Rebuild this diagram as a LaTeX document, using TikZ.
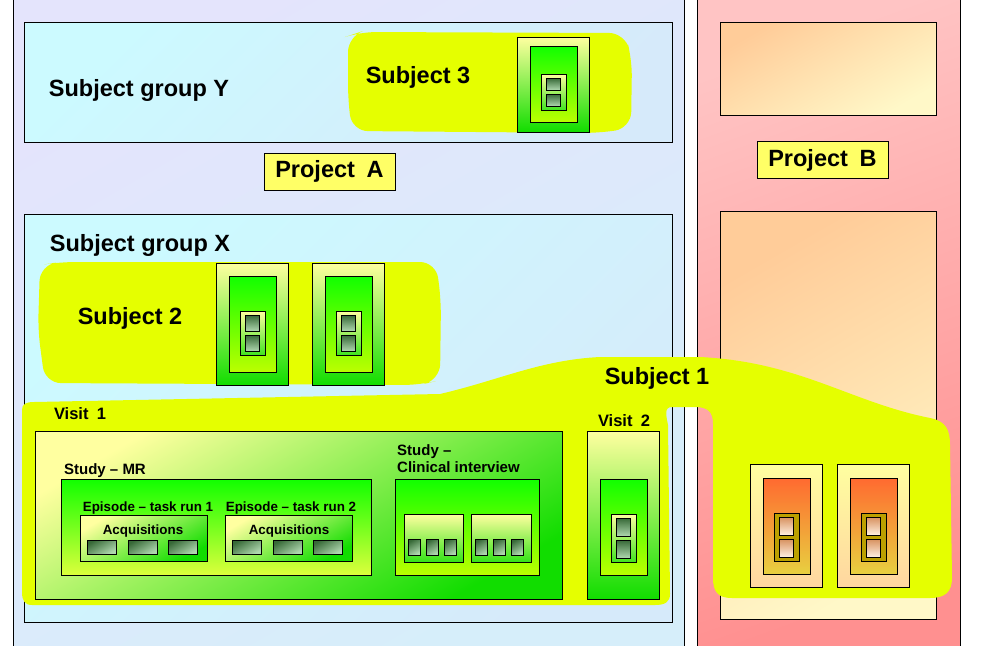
\documentclass[tikz,border=0pt]{standalone}
\usepackage{fontspec}
\setmainfont{Liberation Sans}
\definecolor{bgAa}{RGB}{228,228,252}
\definecolor{bgAb}{RGB}{214,238,250}
\definecolor{grpa}{RGB}{204,250,255}
\definecolor{grpb}{RGB}{214,234,250}
\definecolor{bgBa}{RGB}{255,196,196}
\definecolor{bgBb}{RGB}{255,144,144}
\definecolor{peacha}{RGB}{255,204,153}
\definecolor{peachb}{RGB}{255,248,200}
\definecolor{blobc}{RGB}{229,255,0}
\definecolor{labc}{RGB}{255,255,102}
\definecolor{lyel}{RGB}{255,255,160}
\definecolor{gdark}{RGB}{17,221,0}
\definecolor{gbright}{RGB}{17,255,0}
\definecolor{gyel}{RGB}{187,255,0}
\definecolor{gyelb}{RGB}{220,255,60}
\definecolor{sqa}{RGB}{55,105,55}
\definecolor{sqb}{RGB}{175,215,175}
\definecolor{ora}{RGB}{255,106,48}
\definecolor{orb}{RGB}{232,208,64}
\definecolor{olivec}{RGB}{187,160,0}
\definecolor{osqa}{RGB}{215,145,95}
\definecolor{osqb}{RGB}{255,240,225}
\definecolor{ooutb}{RGB}{255,214,160}
\tikzset{
  box/.style={draw=black, line width=0.8pt},
  gouter/.style={box, top color=lyel, bottom color=gdark},
  ginner/.style={box, top color=gbright, bottom color=gyel},
  gsmall/.style={box, top color=lyel, bottom color=gdark!80!lyel},
  gsq/.style={box, top color=sqa, bottom color=sqb},
  oouter/.style={box, top color=lyel, bottom color=ooutb},
  oinner/.style={box, top color=ora, bottom color=orb},
  osmall/.style={box, fill=olivec},
  osq/.style={box, top color=osqa, bottom color=osqb},
  blob/.style={fill=blobc},
  biglab/.style={font=\bfseries\fontsize{23.5}{26}\selectfont, inner sep=0pt},
  visitlab/.style={font=\bfseries\fontsize{16.5}{19}\selectfont, inner sep=0pt},
  studylab/.style={font=\bfseries\fontsize{15}{17}\selectfont, inner sep=0pt},
  eplab/.style={font=\bfseries\fontsize{13.4}{15}\selectfont, inner sep=0pt},
  projlab/.style={box, fill=labc, minimum width=131pt, minimum height=37pt, inner sep=0pt, font=\bfseries\fontsize{23.5}{26}\selectfont},
}
\newcommand\mkvisit[8]{%
  \draw[#1outer] (#2,#3) rectangle ({#2+72},#4);
  \draw[#1inner] ({#2+13},#5) rectangle ({#2+60},#6);
  \draw[#1small] ({#2+24},#7) rectangle ({#2+49},#8);
  \draw[#1sq] ({#2+29},{#7+4}) rectangle ({#2+43},{(#7+#8)/2-2});
  \draw[#1sq] ({#2+29},{(#7+#8)/2+2}) rectangle ({#2+43},{#8-4});
}
\begin{document}
\begin{tikzpicture}[x=1pt,y=-1pt]
\clip (0,0) rectangle (981,645);
\fill[white] (0,0) rectangle (981,645);
% panels
\draw[box, top color=bgAa, bottom color=bgAb, shading angle=30] (13,-5) rectangle (684,650);
\draw[box, top color=bgBa, bottom color=bgBb, shading angle=20] (697,-5) rectangle (960,650);
% subject groups
\draw[box, top color=grpa, bottom color=grpb, shading angle=45] (24,22) rectangle (672,142);
\draw[box, top color=grpa, bottom color=grpb, shading angle=45] (24,214) rectangle (672,622);
% project B boxes
\draw[box, top color=peacha, bottom color=peachb, shading angle=30] (720,22) rectangle (936,115);
\draw[box, top color=peacha, bottom color=peachb, shading angle=30] (720,211) rectangle (936,619);
% blobs
\fill[blob, rounded corners=16] (348,36) -- (360,32) -- (625,33) -- (632,60) -- (631,128) -- (600,133) -- (352,131) -- (348,100) -- cycle;
\fill[blob, rounded corners=16] (40,265) -- (60,262) -- (436,262) -- (441,300) -- (440,380) -- (420,385) -- (45,383) -- (38,330) -- cycle;
\fill[blob] (22,410) .. controls (22,404) and (26,402) .. (34,402)
  -- (440,394) .. controls (500,380) and (540,360) .. (600,357)
  -- (700,357) .. controls (800,362) and (850,402) .. (930,418)
  .. controls (946,421) and (950,430) .. (950,445)
  -- (952,578) .. controls (952,592) and (945,598) .. (930,598)
  -- (732,598) .. controls (718,598) and (713,592) .. (713,578)
  -- (713,424) .. controls (713,412) and (708,407) .. (695,407)
  -- (672,407) .. controls (664,407) and (666,415) .. (668,425)
  -- (670,594) .. controls (670,602) and (665,605) .. (655,605)
  -- (32,605) .. controls (25,605) and (22,601) .. (22,592) -- cycle;
% subject visit boxes
\mkvisit{g}{517}{37}{132}{46}{122}{74}{110}
\mkvisit{g}{216}{263}{385}{276}{372}{311}{355}
\mkvisit{g}{312}{263}{385}{276}{372}{311}{355}
\mkvisit{g}{587}{431}{599}{479}{575}{514}{562}
\mkvisit{o}{750}{464}{587}{478}{574}{513}{561}
\mkvisit{o}{837}{464}{587}{478}{574}{513}{561}
% visit 1
\draw[box, top color=lyel, bottom color=gdark, shading angle=30] (35,431) rectangle (562,599);
\draw[box, top color=gbright, bottom color=gyelb] (61,479) rectangle (371,575);
\draw[box, top color=lyel, bottom color=gdark, shading angle=30] (80,515) rectangle (207,561);
\draw[box, top color=lyel, bottom color=gdark, shading angle=30] (225,515) rectangle (352,561);
\foreach \ax in {87,128,168,232,273,313}
  \draw[gsq, shading angle=30] (\ax,540) rectangle ({\ax+29},554);
\draw[box, top color=gbright, bottom color=gyel] (395,479) rectangle (539,575);
\draw[box, top color=lyel, bottom color=gdark!85!lyel] (404,514) rectangle (463,562);
\draw[box, top color=lyel, bottom color=gdark!85!lyel] (471,514) rectangle (531,562);
\foreach \ax in {408,426,444,475,493,511}
  \draw[gsq, shading angle=30] (\ax,539) rectangle ({\ax+12},555);
% labels
\node[biglab] (sgy) at (139,90) {Subject group Y};
\node[biglab] (s3) at (418,77) {Subject 3};
\node[projlab] (pa) at (329.5,171.5) {Project\enspace A};
\node[biglab] (sgx) at (140,245) {Subject group X};
\node[biglab] (s2) at (130,318) {Subject 2};
\node[biglab] (s1) at (657,378) {Subject 1};
\node[visitlab] (v1) at (80,414) {Visit\enspace 1};
\node[visitlab] (v2) at (624,421) {Visit\enspace 2};
\node[studylab] (smr) at (105,471) {Study – MR};
\node[studylab, anchor=north west, align=left] (sci) at (397,444) {Study –\\Clinical interview};
\node[eplab] (e1) at (148,508) {Episode – task run 1};
\node[eplab] (e2) at (291,508) {Episode – task run 2};
\node[eplab] (a1) at (143,531) {Acquisitions};
\node[eplab] (a2) at (289,531) {Acquisitions};
\node[projlab] (pb) at (822.5,160) {Project\enspace B};
\end{tikzpicture}
\end{document}
